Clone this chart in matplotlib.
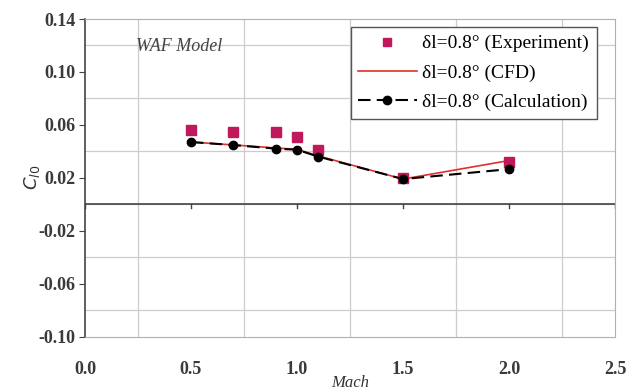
import matplotlib
matplotlib.use("Agg")
import matplotlib.pyplot as plt
import numpy as np

# Datos
mach_exp = [0.5, 0.7, 0.9, 1.0, 1.1, 1.5, 2.0]
cl0_exp = [0.056, 0.0545, 0.0545, 0.0505, 0.041, 0.020, 0.032]

mach_cfd = [0.5, 0.7, 0.9, 1.0, 1.1, 1.5, 2.0]
cl0_cfd = [0.047, 0.0448, 0.0425, 0.0415, 0.0365, 0.019, 0.033]

mach_calc = [0.5, 0.7, 0.9, 1.0, 1.1, 1.5, 2.0]
cl0_calc = [0.047, 0.0447, 0.042, 0.0412, 0.036, 0.019, 0.0265]

yticks = [0.14, 0.10, 0.06, 0.02, -0.02, -0.06, -0.10]
xticks = [0.0, 0.5, 1.0, 1.5, 2.0, 2.5]

plt.rcParams["font.family"] = ["Liberation Serif", "DejaVu Serif"]

fig = plt.figure(figsize=(6.3, 3.92), dpi=100)
ax = fig.add_axes([85 / 630, 1 - 336.5 / 392, 530 / 630, 317.5 / 392])

ax.set_xlim(0, 2.5)
ax.set_ylim(-0.10, 0.14)

# rejilla
ax.set_xticks(np.arange(0, 2.51, 0.25), minor=True)
ax.set_yticks(np.arange(-0.10, 0.141, 0.02), minor=True)
ax.grid(which="minor", color="#cccccc", linewidth=0.9)
ax.tick_params(which="minor", length=0)

ax.set_xticks(xticks)
ax.set_xticklabels([f"{v:.1f}" for v in xticks])
ax.set_yticks(yticks)
ax.set_yticklabels([f"{v:.2f}" for v in yticks])
ax.tick_params(axis="x", length=0, pad=18, labelsize=13)
ax.tick_params(axis="y", length=4, direction="out", color="#444444", labelsize=13, pad=3)
for lab in ax.get_xticklabels() + ax.get_yticklabels():
    lab.set_fontweight("bold")
    lab.set_color("#3a3a3a")

for s in ["top", "right", "bottom"]:
    ax.spines[s].set_color("#b0b0b0")
ax.spines["left"].set_color("#444444")
ax.spines["left"].set_linewidth(1.2)

# eje horizontal en cero con marcas
ax.axhline(0, color="#444444", linewidth=1.2, zorder=2)
for xv in xticks:
    ax.plot([xv, xv], [0, -0.003], color="#444444", linewidth=1, zorder=2)

ax.plot(mach_exp, cl0_exp, linestyle="none", marker="s", markersize=6.5,
        color="#c0185a", label="δl=0.8° (Experiment)", zorder=4)
ax.plot(mach_cfd, cl0_cfd, color="#e03030", linewidth=1.2,
        label="δl=0.8° (CFD)", zorder=3)
ax.plot(mach_calc, cl0_calc, color="black", linewidth=1.5, linestyle=(0, (6, 3)),
        marker="o", markersize=6, label="δl=0.8° (Calculation)", zorder=5)

leg = ax.legend(loc="upper right", bbox_to_anchor=(0.966, 0.975), borderaxespad=0,
                fontsize=14, frameon=True, fancybox=False, framealpha=1,
                edgecolor="#555555", borderpad=0.4, labelspacing=0.6,
                handlelength=3.0, handletextpad=0.3)
leg.get_frame().set_linewidth(1.0)
leg.legend_handles[0].set_markersize(5.5)

ax.text(0.24, 0.119, "WAF Model", fontsize=13, style="italic", color="#444444",
        va="center")

ax.set_ylabel("$C_{l0}$", fontsize=13, labelpad=-3, color="#333333")
fig.text(350 / 630, 1 - 383 / 392, "Mach", fontsize=12, style="italic",
         color="#333333", ha="center", va="center")

fig.savefig("out.png", dpi=100)
